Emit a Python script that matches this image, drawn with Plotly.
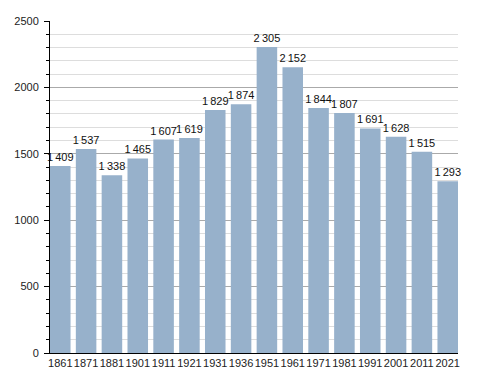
import plotly.graph_objects as go

years = ["1861", "1871", "1881", "1901", "1911", "1921", "1931", "1936",
         "1951", "1961", "1971", "1981", "1991", "2001", "2011", "2021"]
population = [1409, 1537, 1338, 1465, 1607, 1619, 1829, 1874,
              2305, 2152, 1844, 1807, 1691, 1628, 1515, 1293]
y_ticks = [0, 500, 1000, 1500, 2000, 2500]

labels = [f"{v:,}".replace(",", "\u2009") for v in population]

fig = go.Figure(go.Bar(
    x=list(range(len(years))), y=population,
    text=labels, textposition="outside", constraintext="none",
    textfont=dict(size=11, color="#111"),
    marker=dict(color="#97b1cb", line=dict(width=0)),
    cliponaxis=False, hoverinfo="skip",
))

gap = 0.205
fig.update_layout(
    width=488, height=373,
    margin=dict(l=50, r=30, t=21, b=20, autoexpand=False),
    paper_bgcolor="white", plot_bgcolor="white",
    font=dict(family="Liberation Sans", size=11, color="#222"),
    bargap=gap, showlegend=False,
    xaxis=dict(
        tickmode="array", tickvals=list(range(len(years))), ticktext=years,
        tickangle=0, automargin=False,
        range=[-0.5 + gap / 2, len(years) - 0.5 - gap / 2],
        showline=True, linecolor="black", linewidth=1,
        showgrid=False, ticks="", zeroline=False, fixedrange=True,
    ),
    yaxis=dict(
        range=[0, 2500], tickvals=y_ticks, tickformat="d", automargin=False,
        showline=True, linecolor="black", linewidth=1,
        ticks="outside", ticklen=5, tickcolor="black", tickwidth=1,
        showgrid=True, gridcolor="#aaaaaa", gridwidth=1,
        zeroline=False, ticklabelstandoff=3,
        minor=dict(dtick=100, showgrid=True, gridcolor="#dddddd",
                   ticks="outside", ticklen=3, tickcolor="black"),
    ),
)

fig.write_html("out.html", config={"displayModeBar": False},
               post_script="document.body.style.margin='0';document.body.style.overflow='hidden';")
